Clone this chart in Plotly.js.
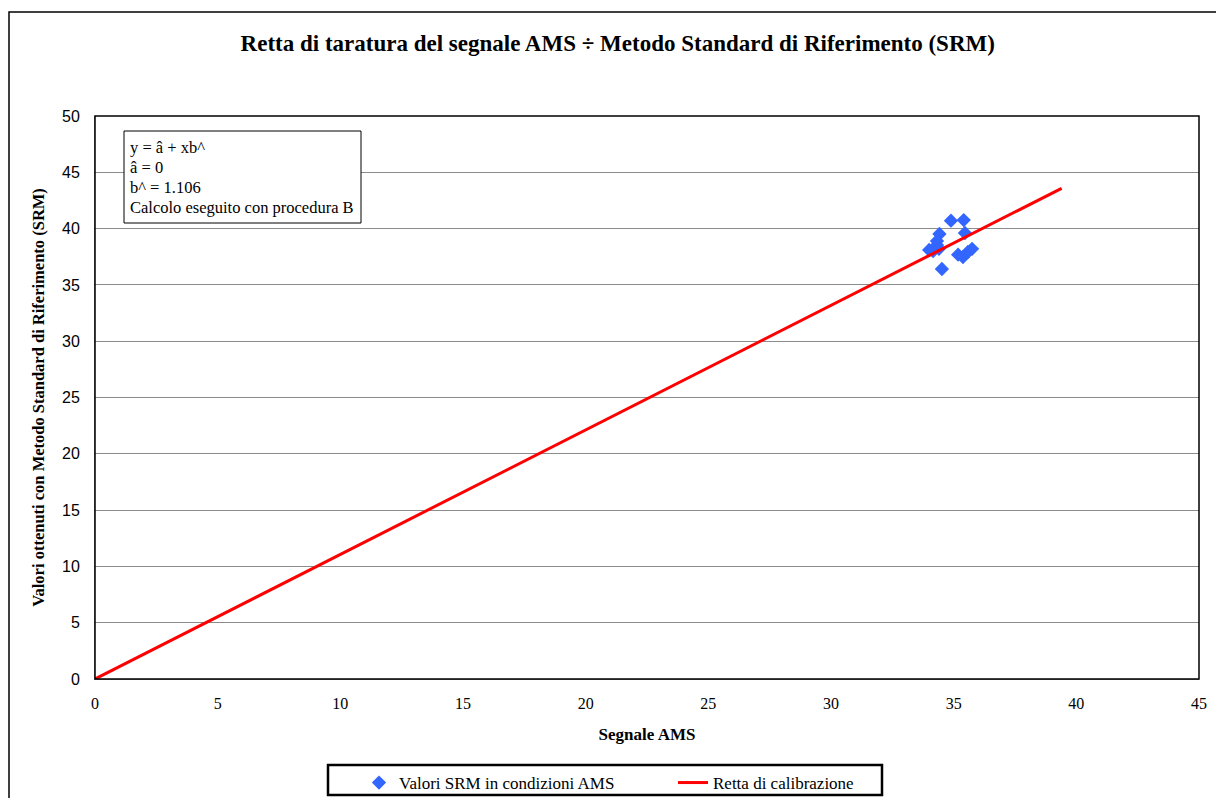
<!DOCTYPE html>
<html>
<head>
<meta charset="utf-8">
<script src="https://cdn.plot.ly/plotly-3.0.1.min.js"></script>
<style>html,body{margin:0;padding:0;background:#fff;}#chart{width:1216px;height:798px;}</style>
</head>
<body>
<div id="chart"></div>
<script>
// Data
const srmX = [34.89, 35.41, 34.42, 35.46, 34.32, 34.32, 34.00, 34.16, 34.40, 34.52, 35.18, 35.38, 35.58, 35.75];
const srmY = [40.70, 40.76, 39.52, 39.61, 38.90, 38.54, 38.10, 38.00, 38.20, 36.41, 37.68, 37.48, 37.92, 38.20];
const lineX = [0, 39.4];
const lineY = [0, 43.58];
const xTicks = [0, 5, 10, 15, 20, 25, 30, 35, 40, 45];
const yTicks = [0, 5, 10, 15, 20, 25, 30, 35, 40, 45, 50];
const boxLines = ["y = â + xb^", "â = 0", "b^ = 1.106", "Calcolo eseguito con procedura B"];

const serif = "Liberation Serif, Times New Roman, serif";
const sans = "Liberation Sans, Arial, sans-serif";

const W = 1216, H = 798;
const L = 95, R = 17, T = 116, B = 119;
const pw = W - L - R, ph = H - T - B;
function px(x) { return (x - L) / pw; }
function py(y) { return (H - B - y) / ph; }

const traces = [
  {
    x: srmX, y: srmY, type: 'scatter', mode: 'markers',
    name: 'Valori SRM in condizioni AMS',
    marker: {symbol: 'diamond', size: 11, color: '#3366FF', line: {width: 0}}
  },
  {
    x: lineX, y: lineY, type: 'scatter', mode: 'lines',
    name: 'Retta di calibrazione',
    line: {color: '#FF0000', width: 3}
  }
];

const layout = {
  width: W, height: H,
  margin: {l: L, r: R, t: T, b: B, pad: 0},
  paper_bgcolor: '#fff', plot_bgcolor: '#fff',
  showlegend: true,
  title: {
    text: '<b>Retta di taratura del segnale AMS ÷ Metodo Standard di Riferimento (SRM)</b>',
    font: {family: serif, size: 23, color: '#000'},
    x: 0.508, xanchor: 'center', y: 1 - 43 / H, yanchor: 'middle'
  },
  xaxis: {
    range: [0, 45], tickvals: xTicks, ticktext: xTicks.map(String),
    showgrid: false, zeroline: false, automargin: false,
    showline: true, linecolor: '#888', linewidth: 1,
    ticks: 'outside', ticklen: 10, tickcolor: 'rgba(0,0,0,0)',
    tickfont: {family: serif, size: 16, color: '#000'},
    title: {text: '<b>Segnale AMS</b>', font: {family: serif, size: 17, color: '#000'}, standoff: 16},
    fixedrange: true
  },
  yaxis: {
    range: [0, 50], tickvals: yTicks, ticktext: yTicks.map(String),
    showgrid: true, gridcolor: '#8c8c8c', gridwidth: 1,
    zeroline: false, automargin: false,
    showline: true, linecolor: '#888', linewidth: 1,
    ticks: 'outside', ticklen: 11, tickcolor: 'rgba(0,0,0,0)',
    tickfont: {family: sans, size: 16, color: '#000'},
    title: {text: '<b>Valori ottenuti con Metodo Standard di Riferimento (SRM)</b>', font: {family: serif, size: 16.5, color: '#000'}, standoff: 13},
    fixedrange: true
  },
  legend: {
    orientation: 'h',
    x: px(359), xanchor: 'left',
    yref: 'container', y: 1 - 765 / H, yanchor: 'top',
    bgcolor: 'rgba(0,0,0,0)', borderwidth: 0,
    font: {family: serif, size: 17, color: '#000'},
    entrywidth: 269, entrywidthmode: 'pixels',
    itemwidth: 30
  },
  shapes: [
    // outer chart frame
    {type: 'rect', xref: 'paper', yref: 'paper', x0: px(9), x1: px(1230), y0: py(12), y1: py(810),
     line: {color: '#000', width: 1.5}, fillcolor: 'rgba(0,0,0,0)', layer: 'below'},
    // plot area frame
    {type: 'rect', xref: 'paper', yref: 'paper', x0: 0, x1: 1, y0: 0, y1: 1,
     line: {color: '#000', width: 1.5}, fillcolor: 'rgba(0,0,0,0)'},
    // legend box
    {type: 'rect', xref: 'paper', yref: 'paper', x0: px(328), x1: px(882), y0: py(765), y1: py(795),
     line: {color: '#000', width: 2.5}, fillcolor: '#fff', layer: 'below'},
    // text box
    {type: 'rect', xref: 'paper', yref: 'paper', x0: px(124), x1: px(361), y0: py(131), y1: py(223),
     line: {color: '#000', width: 1}, fillcolor: '#fff'}
  ],
  annotations: boxLines.map((t, i) => ({
    text: t, xref: 'paper', yref: 'paper', x: px(128), xanchor: 'left',
    y: py(147 + i * 20.3), yanchor: 'middle', showarrow: false,
    font: {family: serif, size: 16.5, color: '#000'}
  }))
};

Plotly.newPlot('chart', traces, layout, {displayModeBar: false, staticPlot: true});
</script>
</body>
</html>
